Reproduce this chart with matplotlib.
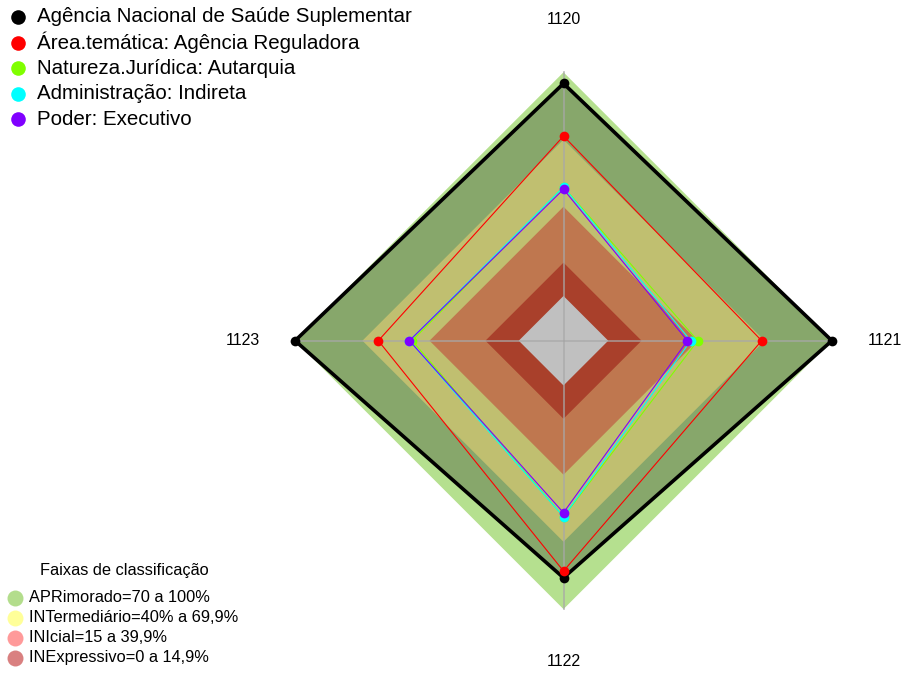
import numpy as np
import matplotlib.pyplot as plt
from matplotlib.lines import Line2D

plt.rcParams['font.family'] = ['Liberation Sans', 'DejaVu Sans']

# categories (axes of the radar)
categories = ["1120", "1121", "1122", "1123"]

# series values (%)
series_names = [
    "Agência Nacional de Saúde Suplementar",
    "Área.temática: Agência Reguladora",
    "Natureza.Jurídica: Autarquia",
    "Administração: Indireta",
    "Poder: Executivo",
]
ans = [95, 100, 86, 100]
area_tematica = [71.5, 68.6, 83, 62.8]
natureza = [48.7, 40.0, 58.7, 47.7]
administracao = [48.7, 36.9, 58.7, 48.9]
poder = [47.7, 35.4, 56.9, 48.9]
series_colors = ["black", "#ff0000", "#80ff00", "#00ffff", "#8000ff"]

# classification bands
band_labels = ["APRimorado=70 a 100%", "INTermediário=40% a 69,9%",
               "INIcial=15 a 39,9%", "INExpressivo=0 a 14,9%"]
band_limits = [100, 69.9, 39.9, 14.9, 0]
band_fill = ["#b5e08f", "#c0bf70", "#bf774f", "#a9402b", "#c0c0c0"]
band_legend_colors = ["#b3dd8c", "#ffff99", "#ff9a9a", "#d98080"]

angles = np.linspace(0, 2 * np.pi, len(categories), endpoint=False)
closed = np.append(angles, angles[0])


def close(vals):
    return np.append(vals, vals[0])


fig = plt.figure(figsize=(9.05, 6.73), dpi=100)
ax = fig.add_axes([295.1 / 905, 63.9 / 673, 536.8 / 905, 536.8 / 673], polar=True)
ax.set_theta_zero_location("N")
ax.set_theta_direction(-1)
ax.set_ylim(-20, 100)
ax.set_axis_off()

# outer band, then filled black series, then inner bands
ax.fill(closed, close([band_limits[0]] * 4), color=band_fill[0], lw=0, zorder=1,
        clip_on=False)
ax.fill(closed, close(ans), color=(0, 0, 0, 0.25), lw=0, zorder=2, clip_on=False)
for i in range(1, len(band_limits)):
    ax.fill(closed, close([band_limits[i]] * 4), color=band_fill[i], lw=0,
            zorder=3 + i, clip_on=False)

# axis spokes
for a in angles:
    ax.plot([a, a], [-20, 100], color="#a8a8a8", lw=1.2, alpha=0.8, zorder=9,
            clip_on=False)

all_series = [ans, area_tematica, natureza, administracao, poder]
for k, (vals, col) in enumerate(zip(all_series, series_colors)):
    lw = 2.6 if k == 0 else 0.8
    ax.plot(closed, close(vals), color=col, lw=lw, zorder=10 + k, clip_on=False)
    ax.plot(angles, vals, "o", color=col, ms=7, mec="none", zorder=10 + k,
            clip_on=False)

for a, lab in zip(angles, categories):
    ax.text(a, 123.5, lab, ha="center", va="center", fontsize=11.5, clip_on=False)

# top legend (series)
for i, (name, col) in enumerate(zip(series_names, series_colors)):
    y = 1 - (17 + 25.6 * i) / 673
    fig.add_artist(Line2D([18 / 905], [y], marker="o", color=col, ms=10.5,
                          mec="none", transform=fig.transFigure))
    fig.text(37 / 905, y, name, ha="left", va="center", fontsize=14.8)

# bottom legend (classification bands)
fig.text(124 / 905, 1 - 571 / 673, "Faixas de classificação", ha="center",
         va="center", fontsize=11.8)
for i, (lab, col) in enumerate(zip(band_labels, band_legend_colors)):
    y = 1 - (597.5 + 20 * i) / 673
    fig.add_artist(Line2D([14.7 / 905], [y], marker="o", color=col, ms=11.5,
                          mec="none", transform=fig.transFigure))
    fig.text(29 / 905, y, lab, ha="left", va="center", fontsize=11.8)

fig.savefig("out.png", dpi=100)
